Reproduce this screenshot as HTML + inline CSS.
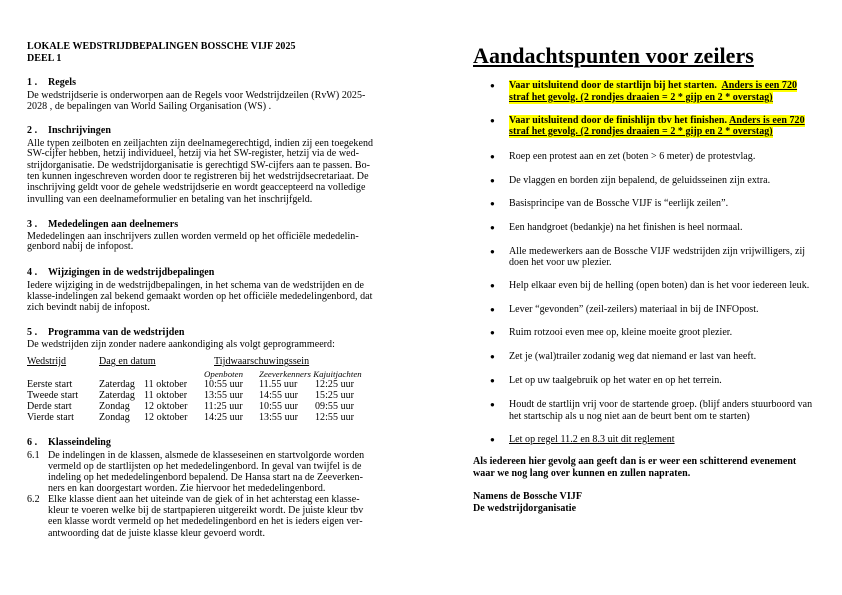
<!DOCTYPE html>
<html><head><meta charset="utf-8"><style>
body{margin:0;width:842px;height:595px;background:#fff;position:relative;overflow:hidden;font-family:"Liberation Serif",serif;font-size:10px;letter-spacing:0.05px;color:#000}
div{position:absolute;white-space:nowrap;line-height:12px}
.b{font-weight:bold}.i{font-style:italic}.u{text-decoration:underline}
.hl{background:#ffff00;font-weight:bold}
.dot{font-size:8px}
</style></head><body>
<div class="b" style="left:27px;top:41px">LOKALE WEDSTRIJDBEPALINGEN BOSSCHE VIJF 2025</div>
<div class="b" style="left:27px;top:53px">DEEL 1</div>
<div class="b" style="left:27px;top:77px">1 .</div><div class="b" style="left:48px;top:77px">Regels</div>
<div style="left:27px;top:90px">De wedstrijdserie is onderworpen aan de Regels voor Wedstrijdzeilen (RvW) 2025-</div>
<div style="left:27px;top:101px">2028 , de bepalingen van World Sailing Organisation (WS) .</div>
<div class="b" style="left:27px;top:125px">2 .</div><div class="b" style="left:48px;top:125px">Inschrijvingen</div>
<div style="left:27px;top:138px">Alle typen zeilboten en zeiljachten zijn deelnamegerechtigd, indien zij een toegekend</div>
<div style="left:27px;top:148px">SW-cijfer hebben, hetzij individueel, hetzij via het SW-register, hetzij via de wed-</div>
<div style="left:27px;top:160px">strijdorganisatie. De wedstrijdorganisatie is gerechtigd SW-cijfers aan te passen. Bo-</div>
<div style="left:27px;top:171px">ten kunnen ingeschreven worden door te registreren bij het wedstrijdsecretariaat. De</div>
<div style="left:27px;top:182px">inschrijving geldt voor de gehele wedstrijdserie en wordt geaccepteerd na volledige</div>
<div style="left:27px;top:194px">invulling van een deelnameformulier en betaling van het inschrijfgeld.</div>
<div class="b" style="left:27px;top:219px">3 .</div><div class="b" style="left:48px;top:219px">Mededelingen aan deelnemers</div>
<div style="left:27px;top:231px">Mededelingen aan inschrijvers zullen worden vermeld op het officiële mededelin-</div>
<div style="left:27px;top:241px">genbord nabij de infopost.</div>
<div class="b" style="left:27px;top:267px">4 .</div><div class="b" style="left:48px;top:267px">Wijzigingen in de wedstrijdbepalingen</div>
<div style="left:27px;top:280px">Iedere wijziging in de wedstrijdbepalingen, in het schema van de wedstrijden en de</div>
<div style="left:27px;top:291px">klasse-indelingen zal bekend gemaakt worden op het officiële mededelingenbord, dat</div>
<div style="left:27px;top:302px">zich bevindt nabij de infopost.</div>
<div class="b" style="left:27px;top:327px">5 .</div><div class="b" style="left:48px;top:327px">Programma van de wedstrijden</div>
<div style="left:27px;top:339px">De wedstrijden zijn zonder nadere aankondiging als volgt geprogrammeerd:</div>
<div class="u" style="left:27px;top:356px">Wedstrijd</div>
<div class="u" style="left:99px;top:356px">Dag en datum</div>
<div class="u" style="left:214px;top:356px">Tijdwaarschuwingssein</div>
<div class="i" style="left:204px;top:368px;font-size:8.8px">Openboten</div>
<div class="i" style="left:259px;top:368px;font-size:8.8px">Zeeverkenners Kajuitjachten</div>
<div style="left:27px;top:379px">Eerste start</div><div style="left:99px;top:379px">Zaterdag</div><div style="left:144px;top:379px">11 oktober</div><div style="left:204px;top:379px">10:55 uur</div><div style="left:259px;top:379px">11.55 uur</div><div style="left:315px;top:379px">12:25 uur</div>
<div style="left:27px;top:390px">Tweede start</div><div style="left:99px;top:390px">Zaterdag</div><div style="left:144px;top:390px">11 oktober</div><div style="left:204px;top:390px">13:55 uur</div><div style="left:259px;top:390px">14:55 uur</div><div style="left:315px;top:390px">15:25 uur</div>
<div style="left:27px;top:401px">Derde start</div><div style="left:99px;top:401px">Zondag</div><div style="left:144px;top:401px">12 oktober</div><div style="left:204px;top:401px">11:25 uur</div><div style="left:259px;top:401px">10:55 uur</div><div style="left:315px;top:401px">09:55 uur</div>
<div style="left:27px;top:412px">Vierde start</div><div style="left:99px;top:412px">Zondag</div><div style="left:144px;top:412px">12 oktober</div><div style="left:204px;top:412px">14:25 uur</div><div style="left:259px;top:412px">13:55 uur</div><div style="left:315px;top:412px">12:55 uur</div>
<div class="b" style="left:27px;top:437px">6 .</div><div class="b" style="left:48px;top:437px">Klasseindeling</div>
<div style="left:27px;top:450px">6.1</div><div style="left:48px;top:450px">De indelingen in de klassen, alsmede de klasseseinen en startvolgorde worden</div>
<div style="left:48px;top:461px">vermeld op de startlijsten op het mededelingenbord. In geval van twijfel is de</div>
<div style="left:48px;top:472px">indeling op het mededelingenbord bepalend. De Hansa start na de Zeeverken-</div>
<div style="left:48px;top:483px">ners en kan doorgestart worden. Zie hiervoor het mededelingenbord.</div>
<div style="left:27px;top:494px">6.2</div><div style="left:48px;top:494px">Elke klasse dient aan het uiteinde van de giek of in het achterstag een klasse-</div>
<div style="left:48px;top:505px">kleur te voeren welke bij de startpapieren uitgereikt wordt. De juiste kleur tbv</div>
<div style="left:48px;top:516px">een klasse wordt vermeld op het mededelingenbord en het is ieders eigen ver-</div>
<div style="left:48px;top:528px">antwoording dat de juiste klasse kleur gevoerd wordt.</div>

<div class="b u" style="left:473px;top:42px;font-size:22px;line-height:28px">Aandachtspunten voor zeilers</div>
<div class="dot" style="left:490px;top:80px">●</div><div class="hl" style="left:509px;top:80px">Vaar uitsluitend door de startlijn bij het starten.&nbsp; <span class="u">Anders is een 720</span></div>
<div class="hl u" style="left:509px;top:92px">straf het gevolg. (2 rondjes draaien = 2 * gijp en 2 * overstag)</div>
<div class="dot" style="left:490px;top:115px">●</div><div class="hl" style="left:509px;top:115px">Vaar uitsluitend door de finishlijn tbv het finishen. <span class="u">Anders is een 720</span></div>
<div class="hl u" style="left:509px;top:126px">straf het gevolg. (2 rondjes draaien = 2 * gijp en 2 * overstag)</div>
<div class="dot" style="left:490px;top:151px">●</div><div style="left:509px;top:151px">Roep een protest aan en zet (boten &gt; 6 meter) de protestvlag.</div>
<div class="dot" style="left:490px;top:175px">●</div><div style="left:509px;top:175px">De vlaggen en borden zijn bepalend, de geluidsseinen zijn extra.</div>
<div class="dot" style="left:490px;top:198px">●</div><div style="left:509px;top:198px">Basisprincipe van de Bossche VIJF is “eerlijk zeilen”.</div>
<div class="dot" style="left:490px;top:222px">●</div><div style="left:509px;top:222px">Een handgroet (bedankje) na het finishen is heel normaal.</div>
<div class="dot" style="left:490px;top:246px">●</div><div style="left:509px;top:246px">Alle medewerkers aan de Bossche VIJF wedstrijden zijn vrijwilligers, zij</div>
<div style="left:509px;top:257px">doen het voor uw plezier.</div>
<div class="dot" style="left:490px;top:280px">●</div><div style="left:509px;top:280px">Help elkaar even bij de helling (open boten) dan is het voor iedereen leuk.</div>
<div class="dot" style="left:490px;top:304px">●</div><div style="left:509px;top:304px">Lever “gevonden” (zeil-zeilers) materiaal in bij de INFOpost.</div>
<div class="dot" style="left:490px;top:327px">●</div><div style="left:509px;top:327px">Ruim rotzooi even mee op, kleine moeite groot plezier.</div>
<div class="dot" style="left:490px;top:351px">●</div><div style="left:509px;top:351px">Zet je (wal)trailer zodanig weg dat niemand er last van heeft.</div>
<div class="dot" style="left:490px;top:375px">●</div><div style="left:509px;top:375px">Let op uw taalgebruik op het water en op het terrein.</div>
<div class="dot" style="left:490px;top:399px">●</div><div style="left:509px;top:399px">Houdt de startlijn vrij voor de startende groep. (blijf anders stuurboord van</div>
<div style="left:509px;top:411px">het startschip als u nog niet aan de beurt bent om te starten)</div>
<div class="dot" style="left:490px;top:434px">●</div><div class="u" style="left:509px;top:434px">Let op regel 11.2 en 8.3 uit dit reglement</div>
<div class="b" style="left:473px;top:456px">Als iedereen hier gevolg aan geeft dan is er weer een schitterend evenement</div>
<div class="b" style="left:473px;top:468px">waar we nog lang over kunnen en zullen napraten.</div>
<div class="b" style="left:473px;top:491px">Namens de Bossche VIJF</div>
<div class="b" style="left:473px;top:503px">De wedstrijdorganisatie</div>
</body></html>
